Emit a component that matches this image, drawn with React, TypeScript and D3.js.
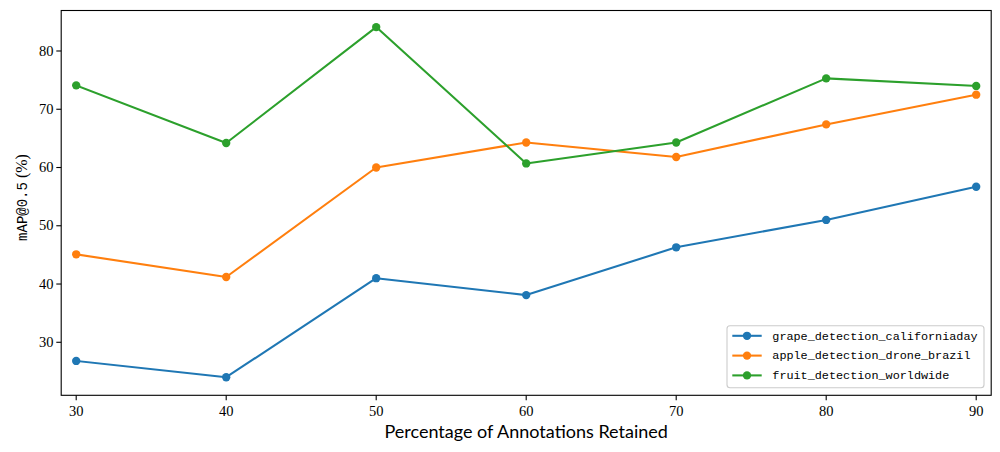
import { useEffect, useRef } from 'react';
import * as d3 from 'd3';

const retained = [30, 40, 50, 60, 70, 80, 90];
const grapeCalifornia = [26.8, 24.0, 41.0, 38.1, 46.3, 51.0, 56.7];
const appleDroneBrazil = [45.1, 41.2, 60.0, 64.3, 61.8, 67.4, 72.5];
const fruitWorldwide = [74.1, 64.2, 84.1, 60.7, 64.3, 75.3, 74.0];
const seriesNames = [
  'grape_detection_californiaday',
  'apple_detection_drone_brazil',
  'fruit_detection_worldwide',
];
const xTicks = [30, 40, 50, 60, 70, 80, 90];
const yTicks = [30, 40, 50, 60, 70, 80];

const colors = ['#1f77b4', '#ff7f0e', '#2ca02c'];
const serif = '"Liberation Serif", "DejaVu Serif", serif';
const mono = '"Liberation Mono", "DejaVu Sans Mono", monospace';
const sans = 'Lato, "Open Sans", sans-serif';

export default function App() {
  const svgRef = useRef<SVGSVGElement>(null);
  const width = 1000;
  const height = 452;

  useEffect(() => {
    if (!svgRef.current) return;
    const svg = d3.select(svgRef.current);
    svg.selectAll('*').remove();

    const left = 61.2, right = 991.2, top = 10.5, bottom = 395.3;

    const x = d3.scaleLinear().domain([29, 91]).range([left, right]);
    const y = d3.scaleLinear().domain([20.9, 86.95]).range([bottom, top]);

    const series = [grapeCalifornia, appleDroneBrazil, fruitWorldwide];

    // Lines and markers
    const line = d3.line<number>()
      .x((_, i) => x(retained[i]))
      .y(d => y(d));

    series.forEach((vals, s) => {
      svg.append('path')
        .datum(vals)
        .attr('d', line)
        .attr('fill', 'none')
        .attr('stroke', colors[s])
        .attr('stroke-width', 2.08)
        .attr('stroke-linejoin', 'round')
        .attr('stroke-linecap', 'square');

      svg.selectAll(`.pt${s}`)
        .data(vals)
        .enter().append('circle')
        .attr('class', `pt${s}`)
        .attr('cx', (_, i) => x(retained[i]))
        .attr('cy', d => y(d))
        .attr('r', 4.17)
        .attr('fill', colors[s]);
    });

    // Frame
    svg.append('rect')
      .attr('x', left)
      .attr('y', top)
      .attr('width', right - left)
      .attr('height', bottom - top)
      .attr('fill', 'none')
      .attr('stroke', '#000')
      .attr('stroke-width', 1.1);

    // X ticks
    const xg = svg.append('g');
    xTicks.forEach(t => {
      xg.append('line')
        .attr('x1', x(t)).attr('x2', x(t))
        .attr('y1', bottom).attr('y2', bottom + 4.9)
        .attr('stroke', '#000').attr('stroke-width', 1.1);
      xg.append('text')
        .attr('x', x(t))
        .attr('y', 415.7)
        .attr('text-anchor', 'middle')
        .style('font-family', serif)
        .style('font-size', '14.5px')
        .text(String(t));
    });

    // Y ticks
    const yg = svg.append('g');
    yTicks.forEach(t => {
      yg.append('line')
        .attr('x1', left - 4.9).attr('x2', left)
        .attr('y1', y(t)).attr('y2', y(t))
        .attr('stroke', '#000').attr('stroke-width', 1.1);
      yg.append('text')
        .attr('x', 53.5)
        .attr('y', y(t) + 4.7)
        .attr('text-anchor', 'end')
        .style('font-family', serif)
        .style('font-size', '14.5px')
        .text(String(t));
    });

    // Axis labels
    svg.append('text')
      .attr('x', (left + right) / 2)
      .attr('y', 437.7)
      .attr('text-anchor', 'middle')
      .style('font-family', sans)
      .style('font-size', '18px')
      .text('Percentage of Annotations Retained');

    const yl = svg.append('text')
      .attr('transform', 'translate(26.5,197.5) rotate(-90)')
      .attr('text-anchor', 'middle')
      .style('font-size', '16px');
    yl.append('tspan').style('font-family', mono).style('font-size', '14px').text('mAP@0.5');
    yl.append('tspan').style('font-family', serif).text('\u00a0(%)');

    // Legend
    const lg = svg.append('g');
    lg.append('rect')
      .attr('x', 727)
      .attr('y', 325.7)
      .attr('width', 257)
      .attr('height', 62)
      .attr('rx', 3)
      .attr('fill', 'rgba(255,255,255,0.8)')
      .attr('stroke', '#cccccc')
      .attr('stroke-width', 1.1);

    const rows = [335.8, 355.6, 375.4];
    seriesNames.forEach((name, i) => {
      lg.append('line')
        .attr('x1', 732.3).attr('x2', 761.7)
        .attr('y1', rows[i]).attr('y2', rows[i])
        .attr('stroke', colors[i]).attr('stroke-width', 2.08);
      lg.append('circle')
        .attr('cx', 747).attr('cy', rows[i]).attr('r', 4.17)
        .attr('fill', colors[i]);
      lg.append('text')
        .attr('x', 772.3)
        .attr('y', rows[i] + 3.8)
        .style('font-family', mono)
        .style('font-size', '11.8px')
        .text(name);
    });
  }, []);

  return (
    <svg
      ref={svgRef}
      width={width}
      height={height}
      style={{ position: 'absolute', left: 0, top: 0, background: '#fff' }}
    />
  );
}
